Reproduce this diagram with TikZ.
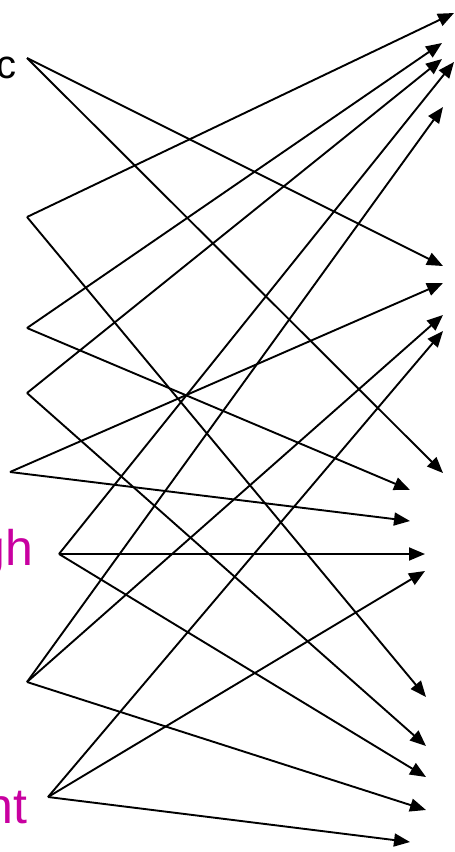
\documentclass[tikz,border=0pt]{standalone}
\usepackage{fontspec}
\setmainfont{Liberation Sans}
\usetikzlibrary{arrows.meta}
\definecolor{lblpink}{RGB}{200,0,160}
\begin{document}
\begin{tikzpicture}[x=1pt, y=-1pt, line width=1.9pt,
    arr/.style={-{Triangle[length=16pt,width=13pt]}},
    lbl/.style={inner sep=0pt, anchor=base east, font=\fontsize{40}{40}\selectfont},
    pink/.style={lbl, text=lblpink, font=\fontsize{50}{50}\selectfont}]
    \useasboundingbox (0,0) rectangle (455,852);
    % labels, cut off at the left edge
    \node[lbl] (lc) at (17,78) {c};
    \node[pink] (lgh) at (34,565) {gh};
    \node[pink] (lnt) at (28,823) {nt};
    % left ends
    \coordinate (s1) at (27,58); \coordinate (s2) at (27,217);
    \coordinate (s3) at (27,328); \coordinate (s4) at (27,393);
    \coordinate (s5) at (10,472); \coordinate (s6) at (59,554);
    \coordinate (s7) at (27,682); \coordinate (s8) at (48,797);
    % right ends
    \coordinate (tA) at (454,13); \coordinate (tB) at (442,43);
    \coordinate (tC) at (442,59); \coordinate (tD) at (454,62);
    \coordinate (tE) at (443,107); \coordinate (tF) at (443,266);
    \coordinate (tG) at (443,283); \coordinate (tH) at (443,315);
    \coordinate (tI) at (443,331); \coordinate (tJ) at (443,473);
    \coordinate (tK) at (410,490); \coordinate (tL) at (410,521);
    \coordinate (tM) at (425,554); \coordinate (tN) at (425,571);
    \coordinate (tO) at (426,697); \coordinate (tP) at (426,746);
    \coordinate (tQ) at (426,777); \coordinate (tR) at (426,810);
    \coordinate (tS) at (410,842);
    % connections
    \draw[arr] (s1) -- (tF); \draw[arr] (s1) -- (tJ);
    \draw[arr] (s2) -- (tA); \draw[arr] (s2) -- (tO);
    \draw[arr] (s3) -- (tB); \draw[arr] (s3) -- (tK);
    \draw[arr] (s4) -- (tC); \draw[arr] (s4) -- (tP);
    \draw[arr] (s5) -- (tG); \draw[arr] (s5) -- (tL);
    \draw[arr] (s6) -- (tD); \draw[arr] (s6) -- (tM); \draw[arr] (s6) -- (tQ);
    \draw[arr] (s7) -- (tE); \draw[arr] (s7) -- (tH); \draw[arr] (s7) -- (tR);
    \draw[arr] (s8) -- (tI); \draw[arr] (s8) -- (tN); \draw[arr] (s8) -- (tS);
\end{tikzpicture}
\end{document}
